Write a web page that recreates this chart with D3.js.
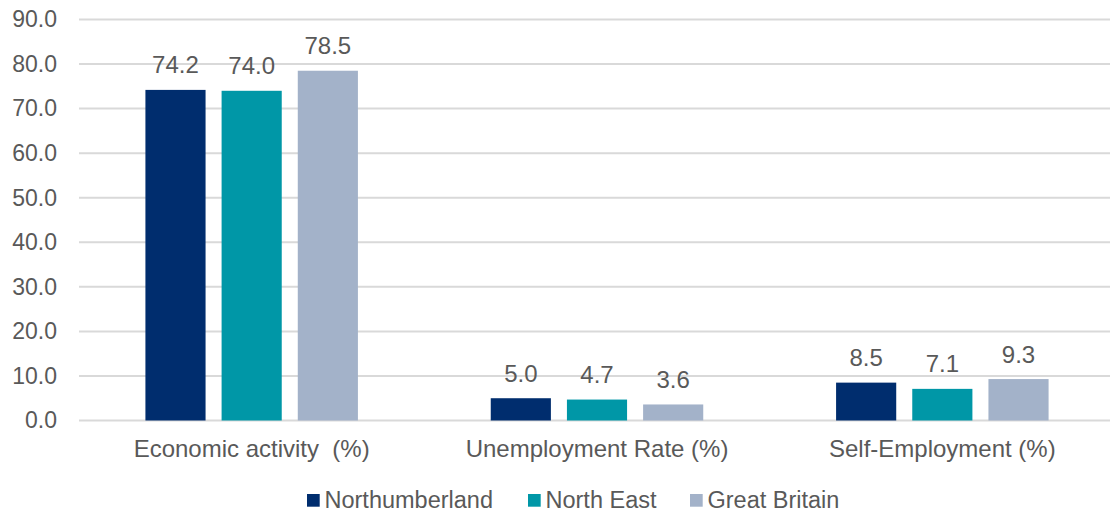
<!DOCTYPE html>
<html><head><meta charset="utf-8">
<script src="https://cdn.jsdelivr.net/npm/d3@7"></script>
<style>body{margin:0;background:#fff;} svg{display:block;}</style>
</head><body><svg id="c" width="1110" height="513"></svg>
<script>
const categories = ["Economic activity  (%)", "Unemployment Rate (%)", "Self-Employment (%)"];
const seriesNames = ["Northumberland", "North East", "Great Britain"];
const northumberland = [74.2, 5.0, 8.5];
const northEast = [74.0, 4.7, 7.1];
const greatBritain = [78.5, 3.6, 9.3];
const yTicks = [0, 10, 20, 30, 40, 50, 60, 70, 80, 90];
const colors = ["#002d6e", "#0097a7", "#a3b2c9"];

const seriesValues = [northumberland, northEast, greatBritain];
const svg = d3.select("#c");
const font = "'Liberation Sans', Arial, sans-serif";
const textColor = "#595959";

const y = d3.scaleLinear().domain([0, 90]).range([420.5, 19.5]);
const x0 = d3.scaleBand().domain(categories).range([79, 1115]).padding(0);
const groupW = 212.5;
const x1 = d3.scaleBand().domain(seriesNames).range([0, groupW]).paddingInner(0.2105).paddingOuter(0);

// gridlines
svg.append("g").selectAll("line").data(yTicks).join("line")
  .attr("x1", 79).attr("x2", 1110)
  .attr("y1", d => y(d)).attr("y2", d => y(d))
  .attr("stroke", "#d9d9d9").attr("stroke-width", 2);

// y axis labels
const yAxis = d3.axisLeft(y).tickValues(yTicks).tickFormat(d3.format(".1f")).tickSize(0).tickPadding(0);
const ya = svg.append("g").attr("transform", "translate(57,0)").call(yAxis);
ya.select(".domain").remove();
ya.selectAll("text").attr("font-family", font).attr("font-size", 23).attr("fill", textColor);

// bars
const groups = svg.append("g").selectAll("g").data(categories).join("g")
  .attr("transform", c => `translate(${x0(c) + x0.bandwidth() / 2 - groupW / 2},0)`);

groups.each(function(c, ci) {
  const g = d3.select(this);
  seriesNames.forEach((s, si) => {
    const v = seriesValues[si][ci];
    g.append("rect")
      .attr("x", x1(s)).attr("width", x1.bandwidth())
      .attr("y", y(v)).attr("height", y(0) - y(v))
      .attr("fill", colors[si]);
    g.append("text")
      .attr("x", x1(s) + x1.bandwidth() / 2).attr("y", y(v) - 16.5)
      .attr("text-anchor", "middle").attr("font-family", font).attr("font-size", 24)
      .attr("fill", textColor).text(d3.format(".1f")(v));
  });
});

// category labels
const xAxis = d3.axisBottom(x0).tickSize(0).tickPadding(0);
const xa = svg.append("g").attr("transform", "translate(0,440)").call(xAxis);
xa.select(".domain").remove();
xa.selectAll("text").attr("font-family", font).attr("font-size", 24).attr("fill", textColor).style("white-space", "pre");

// legend
const legendX = [307, 528, 690];
const lg = svg.append("g").selectAll("g").data(seriesNames).join("g")
  .attr("transform", (d, i) => `translate(${legendX[i]},494)`);
lg.append("rect").attr("width", 12.7).attr("height", 12.7).attr("fill", (d, i) => colors[i]);
lg.append("text").attr("x", 17.5).attr("y", 14).attr("font-family", font).attr("font-size", 23.5)
  .attr("fill", textColor).text(d => d);
</script></body></html>
